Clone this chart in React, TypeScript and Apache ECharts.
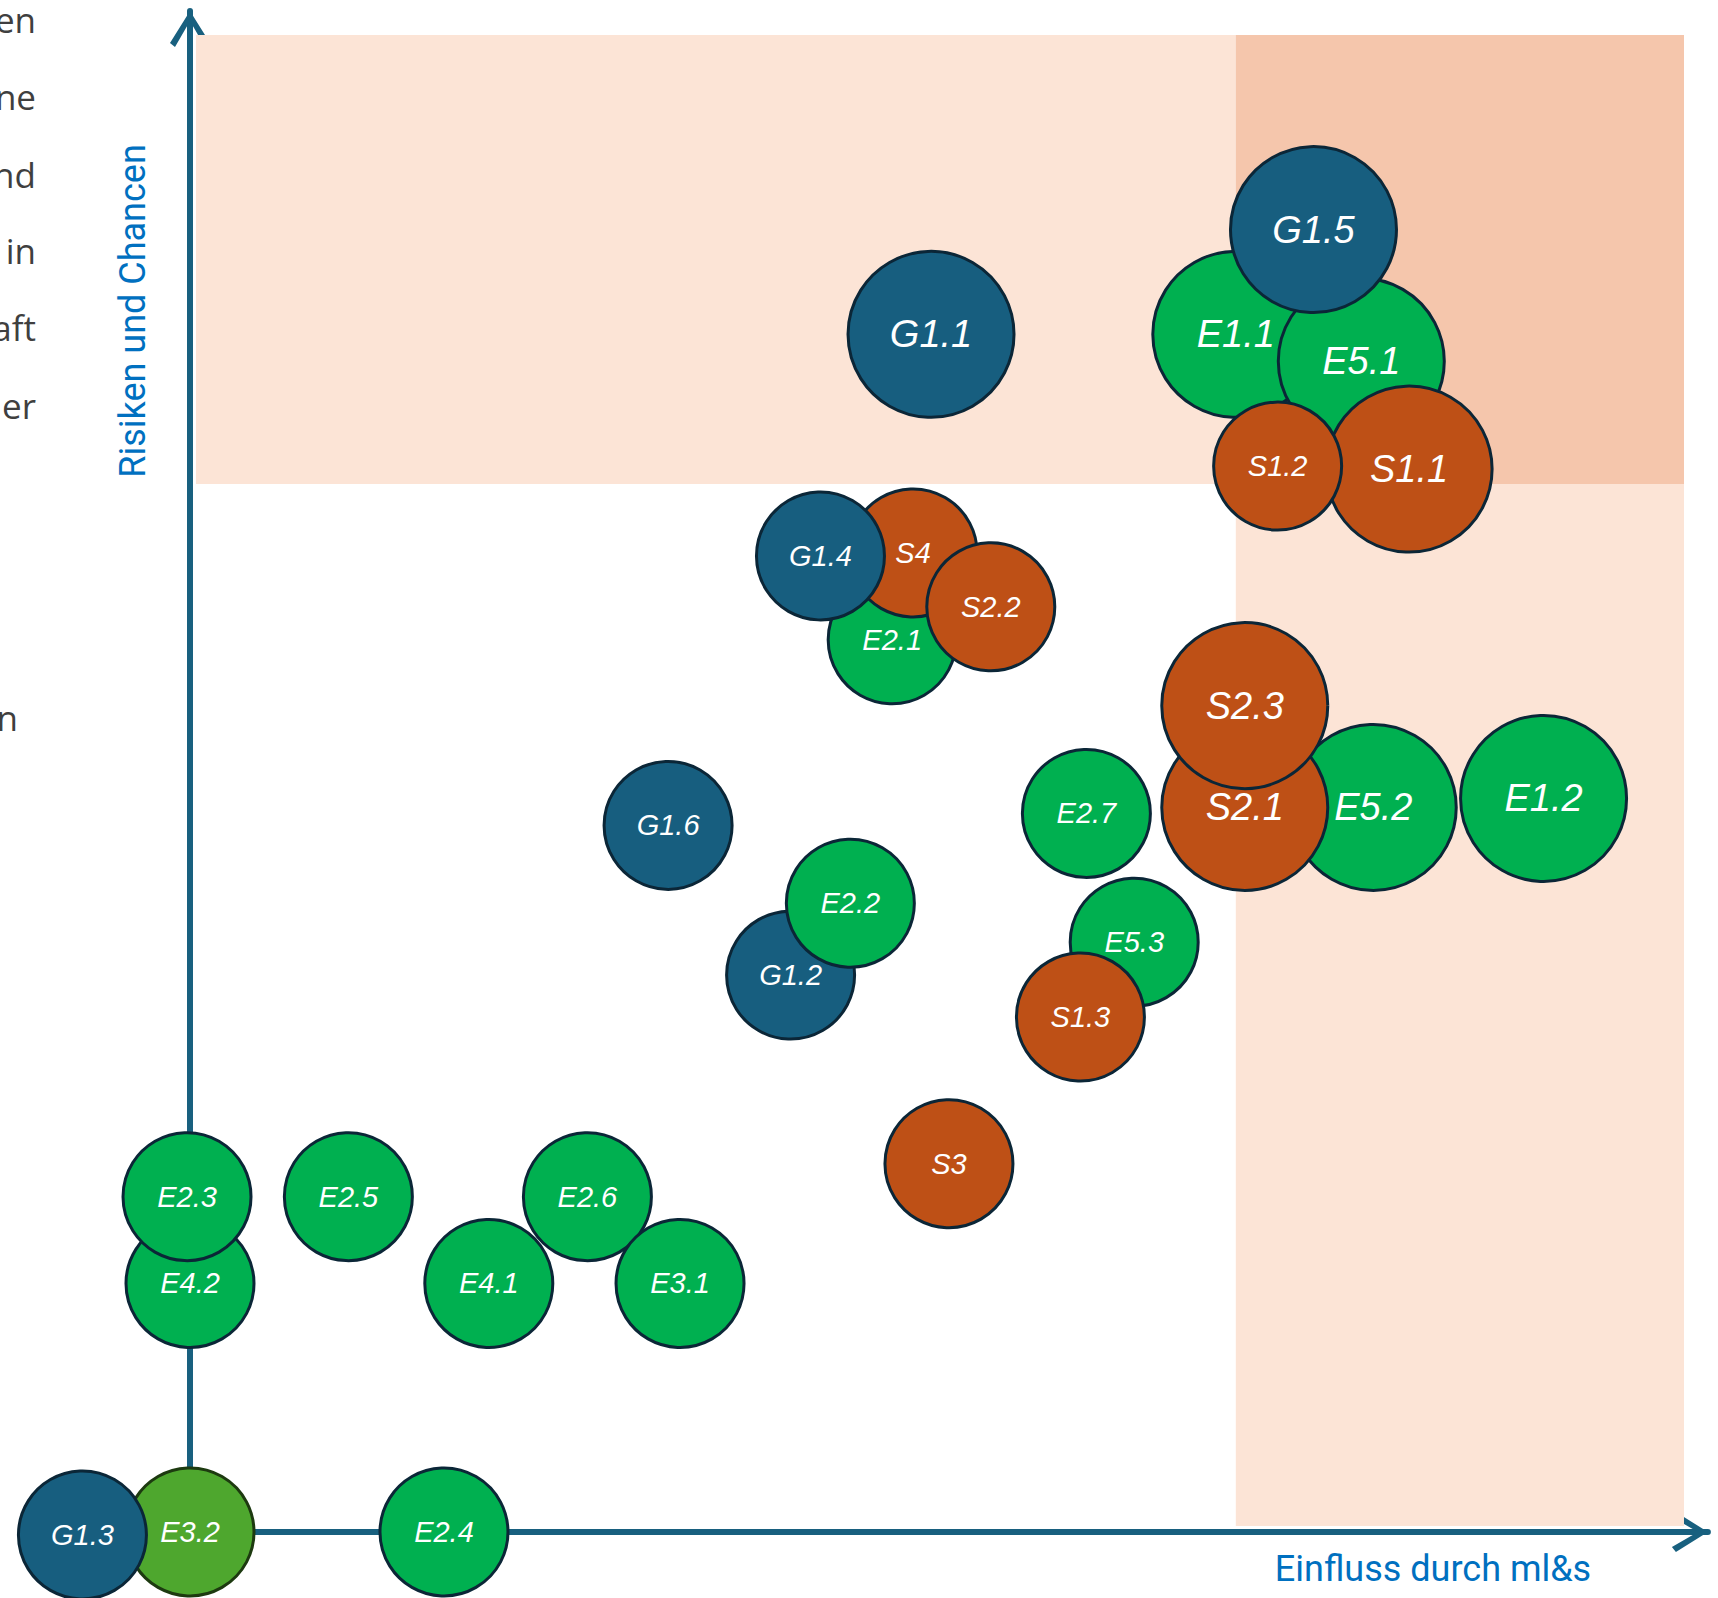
import { useEffect, useRef } from "react";
import * as echarts from "echarts";

// ---- data (draw order: bottom to top) ----
const labels = [
  "E1.1", "E5.1", "G1.5", "S1.1", "S1.2", "G1.1",
  "E2.1", "S4", "G1.4", "S2.2",
  "E5.2", "S2.1", "S2.3", "E1.2", "E2.7", "G1.6",
  "G1.2", "E2.2", "E5.3", "S1.3", "S3",
  "E4.2", "E2.3", "E2.5", "E2.6", "E4.1", "E3.1",
  "E3.2", "G1.3", "E2.4",
];
// Einfluss durch ml&s (x)
const impact = [
  3.50, 3.92, 3.76, 4.08, 3.64, 2.48,
  2.35, 2.42, 2.11, 2.68,
  3.96, 3.53, 3.53, 4.53, 3.00, 1.60,
  2.01, 2.21, 3.16, 2.98, 2.54,
  0.00, -0.01, 0.53, 1.33, 1.00, 1.64,
  0.00, -0.36, 0.85,
];
// Risiken und Chancen (y)
const risk = [
  4.00, 3.91, 4.35, 3.55, 3.56, 4.00,
  2.98, 3.27, 3.26, 3.09,
  2.42, 2.42, 2.76, 2.45, 2.40, 2.36,
  1.86, 2.10, 1.97, 1.72, 1.23,
  0.83, 1.12, 1.12, 1.12, 0.83, 0.83,
  0.00, -0.01, 0.00,
];
// bubble weight: 2 = large, 1 = small
const weight = [
  2, 2, 2, 2, 1, 2,
  1, 1, 1, 1,
  2, 2, 2, 2, 1, 1,
  1, 1, 1, 1, 1,
  1, 1, 1, 1, 1, 1,
  1, 1, 1,
];
const thresholdX = 3.5;
const thresholdY = 3.5;
const scaleMax = 5;

const sideText = ["en", "ne", "nd", "in", "aft", "er", "n"];

// ---- styles ----
const groupColors: Record<string, string> = {
  G: "#175E7F",
  E: "#00B050",
  S: "#BE5016",
};
const specialColors: Record<string, { color: string; borderColor: string }> = {
  "E3.2": { color: "#4EA72E", borderColor: "#1D3A10" },
};
const AXIS_COLOR = "#18607F";
const ARROW = "path://M20,0 L40,32 L35,36 L20,10 L5,36 L0,32 Z";

export default function App() {
  const ref = useRef<HTMLDivElement>(null);

  useEffect(() => {
    if (!ref.current) return;
    const chart = echarts.init(ref.current, undefined, { renderer: "svg" });

    const data = labels.map((name, i) => {
      const special = specialColors[name];
      const big = weight[i] === 2;
      return {
        name,
        value: [impact[i], risk[i], weight[i]],
        itemStyle: special
          ? { color: special.color, borderColor: special.borderColor }
          : { color: groupColors[name[0]] },
        label: { fontSize: big ? 38 : 29 },
      };
    });

    const axisCommon = {
      type: "value" as const,
      axisTick: { show: false },
      axisLabel: { show: false },
      splitLine: { show: false },
    };

    const sideY = [22, 99, 177, 253, 330, 408, 720];
    const sideX = [36, 36, 36, 36, 36, 36, 18];

    chart.setOption({
      animation: false,
      backgroundColor: "#ffffff",
      grid: { left: 40.6, right: 10.1, top: 11, bottom: 66, containLabel: false },
      xAxis: {
        ...axisCommon,
        min: -0.5,
        max: 5.08,
        axisLine: {
          show: true,
          onZero: true,
          lineStyle: { color: AXIS_COLOR, width: 6 },
          symbol: ["none", ARROW],
          symbolSize: [40, 36],
          symbolOffset: [0, -18],
        },
      },
      yAxis: {
        ...axisCommon,
        min: 0,
        max: 5.08,
        axisLine: {
          show: true,
          onZero: true,
          lineStyle: { color: AXIS_COLOR, width: 6 },
          symbol: ["none", ARROW],
          symbolSize: [40, 36],
          symbolOffset: [0, -18],
        },
      },
      series: [
        {
          type: "scatter",
          data: [],
          z: 1,
          silent: true,
          markArea: {
            silent: true,
            itemStyle: { borderWidth: 0 },
            data: [
              [
                { xAxis: 0.02, yAxis: thresholdY, itemStyle: { color: "#FCE4D6" } },
                { xAxis: thresholdX, yAxis: scaleMax },
              ],
              [
                { xAxis: thresholdX, yAxis: 0.02, itemStyle: { color: "#FCE4D6" } },
                { xAxis: scaleMax, yAxis: thresholdY },
              ],
              [
                { xAxis: thresholdX, yAxis: thresholdY, itemStyle: { color: "#F5C6AC" } },
                { xAxis: scaleMax, yAxis: scaleMax },
              ],
            ],
          },
        },
        {
          type: "scatter",
          z: 3,
          clip: false,
          data,
          symbol: "circle",
          symbolSize: (v: number[]) => (v[2] === 2 ? 166 : 128),
          itemStyle: { borderColor: "#0B2637", borderWidth: 3, opacity: 1 },
          label: {
            show: true,
            position: "inside",
            formatter: "{b}",
            color: "#ffffff",
            fontStyle: "italic",
            fontFamily: "'Liberation Sans', Arial, sans-serif",
            fontSize: 29,
          },
          emphasis: { disabled: true },
        },
      ],
      graphic: [
        {
          type: "text",
          x: 133,
          y: 311,
          rotation: Math.PI / 2,
          silent: true,
          style: {
            text: "Risiken und Chancen",
            fill: "#0070C0",
            fontSize: 36,
            fontFamily: "Roboto, sans-serif",
            align: "center",
            verticalAlign: "middle",
          },
        },
        {
          type: "text",
          x: 1433,
          y: 1569,
          silent: true,
          style: {
            text: "Einfluss durch ml&s",
            fill: "#0070C0",
            fontSize: 36,
            fontFamily: "Roboto, sans-serif",
            align: "center",
            verticalAlign: "middle",
          },
        },
        ...sideText.map((t, i) => ({
          type: "text",
          x: sideX[i],
          y: sideY[i] - 3,
          silent: true,
          style: {
            text: t,
            fill: "#3F3F3F",
            fontSize: 35,
            fontFamily: "'Open Sans', sans-serif",
            align: "right",
            verticalAlign: "middle",
          },
        })),
      ],
    });

    return () => chart.dispose();
  }, []);

  return (
    <div
      ref={ref}
      style={{ position: "absolute", left: 0, top: 0, width: 1718, height: 1598 }}
    />
  );
}
